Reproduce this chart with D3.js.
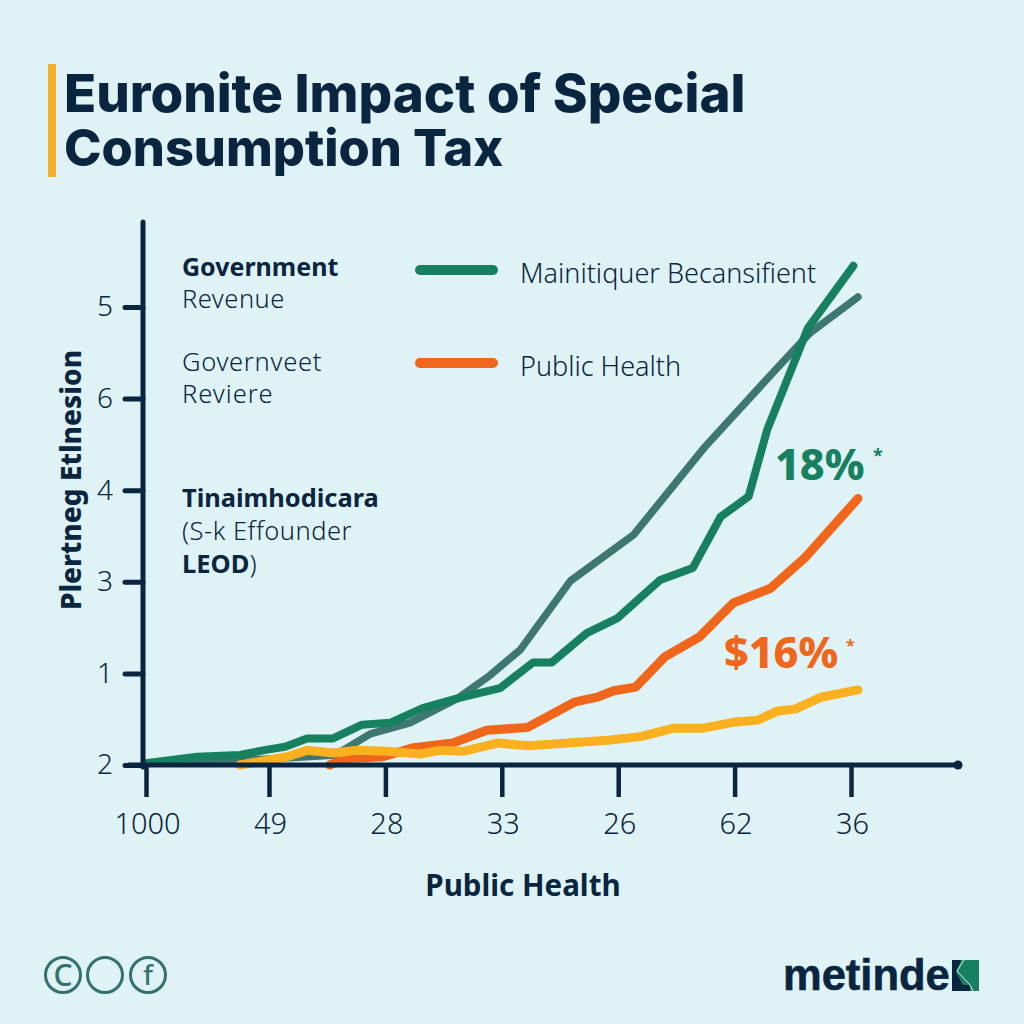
<!DOCTYPE html>
<html>
<head>
<meta charset="utf-8">
<script src="https://cdn.jsdelivr.net/npm/d3@7/dist/d3.min.js"></script>
<style>
html,body{margin:0;padding:0;background:#dff3f6;}
svg{display:block;}
text{font-family:"Noto Sans",sans-serif;}
</style>
</head>
<body>
<svg id="c" width="1024" height="1024"></svg>
<script>
const xTickLabels = ["1000","49","28","33","26","62","36"];
const yTickLabels = ["2","1","3","4","6","5"];
const titleLines = ["Euronite Impact of Special","Consumption Tax"];
const xTitle = "Public Health";
const yTitle = "Plertneg Etlnesion";
const legendNames = ["Mainitiquer Becansifient","Public Health"];

const slateX = [0,.764,1.327,1.57,1.87,2.21,2.625,2.90,3.16,3.59,4.13,4.75,5.37,5.65,6.06];
const slateY = [.02,.05,.09,.11,.34,.46,.73,.98,1.26,2.01,2.51,3.48,4.34,4.72,5.11];
const greenX = [0,.415,.764,.951,1.138,1.327,1.55,1.80,2.04,2.32,2.625,2.985,3.27,3.43,3.73,3.99,4.36,4.64,4.88,5.12,5.28,5.63,6.02];
const greenY = [.02,.09,.11,.16,.20,.29,.29,.44,.46,.62,.73,.84,1.12,1.12,1.44,1.60,2.02,2.15,2.71,2.93,3.66,4.77,5.45];
const orangeX = [1.52,1.67,1.98,2.24,2.58,2.87,3.22,3.63,3.82,3.96,4.15,4.40,4.70,4.99,5.31,5.61,6.06];
const orangeY = [.0,.07,.09,.19,.24,.38,.41,.69,.74,.81,.85,1.18,1.40,1.77,1.93,2.27,2.91];
const yellowX = [.764,1.155,1.327,1.55,1.76,2.01,2.30,2.47,2.67,2.96,3.23,3.91,4.19,4.47,4.72,5.01,5.20,5.37,5.52,5.74,6.06];
const yellowY = [.0,.09,.16,.13,.16,.15,.12,.16,.15,.24,.21,.27,.31,.40,.40,.47,.49,.59,.61,.74,.82];

const DARK="#0a2540", GREEN="#16805f", SLATE="#3e7672", ORANGE="#f0661a", YELLOW="#fbb01f";

const svg = d3.select("#c");
svg.append("rect").attr("width",1024).attr("height",1024).attr("fill","#dff3f6");

const x = d3.scaleLinear().domain([0,1,6]).range([146,269,851]);
const y = d3.scaleLinear().domain([0,5]).range([765,307]);

// title
svg.append("rect").attr("x",48).attr("y",64).attr("width",8).attr("height",113).attr("fill","#f2ae2c");
const title = svg.append("text").attr("font-weight",800).attr("fill",DARK).style("font-family","Inter,sans-serif");
title.selectAll("tspan").data(titleLines).join("tspan")
  .attr("x",64).attr("y",(d,i)=>112+i*54).attr("font-size",(d,i)=>i?50.5:52.8).text(d=>d);

// series
const line = d3.line().x(d=>x(d[0])).y(d=>y(d[1]));
const series = [
  {xs:slateX,ys:slateY,c:SLATE,w:7.5},
  {xs:greenX,ys:greenY,c:GREEN,w:8},
  {xs:orangeX,ys:orangeY,c:ORANGE,w:9},
  {xs:yellowX,ys:yellowY,c:YELLOW,w:9}
];
svg.selectAll("path.s").data(series).join("path").attr("class","s")
  .attr("d",s=>line(d3.zip(s.xs,s.ys)))
  .attr("fill","none").attr("stroke",s=>s.c).attr("stroke-width",s=>s.w)
  .attr("stroke-linejoin","round").attr("stroke-linecap","round");

// axes
const xAxis = d3.axisBottom(x).tickValues(d3.range(7)).tickFormat(i=>xTickLabels[i]).tickSize(32).tickPadding(16);
const gx = svg.append("g").attr("transform","translate(0,765)").call(xAxis);
gx.select(".domain").remove();
gx.selectAll("line").attr("stroke",DARK).attr("stroke-width",4.5);
gx.selectAll("text").attr("font-size",29).attr("font-weight",300).attr("fill",DARK).attr("dy","0.71em").attr("dx",1).style("font-family","'Noto Sans',sans-serif");

const yAxis = d3.axisLeft(y).tickValues(d3.range(6)).tickFormat(i=>yTickLabels[i]).tickSize(18).tickPadding(12);
const gy = svg.append("g").attr("transform","translate(143,0)").call(yAxis);
gy.select(".domain").remove();
gy.selectAll("line").attr("stroke",DARK).attr("stroke-width",5).attr("stroke-linecap","round");
gy.selectAll("text").attr("font-size",28).attr("font-weight",300).attr("fill",DARK).style("font-family","'Noto Sans',sans-serif");

svg.append("line").attr("x1",143).attr("x2",143).attr("y1",222).attr("y2",767)
  .attr("stroke",DARK).attr("stroke-width",5).attr("stroke-linecap","round");
svg.append("line").attr("x1",128).attr("x2",958).attr("y1",765).attr("y2",765)
  .attr("stroke",DARK).attr("stroke-width",5);
svg.append("circle").attr("cx",958).attr("cy",765).attr("r",4.5).attr("fill",DARK);

// legend
[[270,GREEN,283],[363,ORANGE,376]].forEach((r,i)=>{
  svg.append("line").attr("x1",420).attr("x2",493).attr("y1",r[0]).attr("y2",r[0])
    .attr("stroke",r[1]).attr("stroke-width",10).attr("stroke-linecap","round");
  svg.append("text").attr("x",520).attr("y",r[2]).attr("font-size",27).attr("font-weight",300).attr("fill",DARK).text(legendNames[i]);
});

// left notes
const notes = [
  ["Government",276,700,25,0],["Revenue",308,300,25.5,.5],
  ["Governveet",371,300,25.5,.7],["Reviere",403,300,25.5,1],
  ["Tinaimhodicara",507,700,25.4,0],["(S-k Effounder",540,300,25.5,.5]
];
notes.forEach(n=>svg.append("text").attr("x",182).attr("y",n[1]).attr("font-size",n[3])
  .attr("letter-spacing",n[4]).attr("font-weight",n[2]).attr("fill",DARK).text(n[0]));
const leod = svg.append("text").attr("x",182).attr("y",573).attr("font-size",25.5).attr("fill",DARK);
leod.append("tspan").attr("font-weight",700).text("LEOD");
leod.append("tspan").attr("font-weight",300).text(")");

// axis titles
svg.append("text").attr("transform","translate(81,480) rotate(-90)").attr("text-anchor","middle")
  .attr("font-size",28).attr("font-weight",800).attr("fill",DARK).text(yTitle);
svg.append("text").attr("x",523).attr("y",896).attr("text-anchor","middle")
  .attr("font-size",29.5).attr("font-weight",700).attr("fill",DARK).text(xTitle);

// callouts
svg.append("text").attr("x",775).attr("y",480).attr("font-size",43).attr("font-weight",800).attr("fill",GREEN).text("18%");
svg.append("text").attr("x",873).attr("y",462).attr("font-size",18).attr("font-weight",700).attr("fill",GREEN).text("*");
svg.append("text").attr("x",724).attr("y",668).attr("font-size",43).attr("font-weight",800).attr("fill",ORANGE).text("$16%");
svg.append("text").attr("x",846).attr("y",651).attr("font-size",16).attr("font-weight",700).attr("fill",ORANGE).text("*");

// footer
[[63,"C",30,986],[105,"",27,985],[148,"f",27,985]].forEach(c=>{
  svg.append("circle").attr("cx",c[0]).attr("cy",975).attr("r",17.5).attr("fill","none").attr("stroke","#33706e").attr("stroke-width",3);
  svg.append("text").attr("x",c[0]).attr("y",c[3]).attr("text-anchor","middle").attr("font-size",c[2]).attr("font-weight",500).attr("fill","#33706e").text(c[1]);
});
svg.append("text").attr("x",783).attr("y",990).attr("font-size",43.5).attr("font-weight",700).attr("fill",DARK)
  .attr("stroke",DARK).attr("stroke-width",.6)
  .style("font-family","'Liberation Sans',sans-serif").text("metinde");
svg.append("rect").attr("x",952).attr("y",960).attr("width",27).attr("height",31).attr("fill",GREEN);
svg.append("path").attr("d","M952 960h9l-5 12 7 13 h7v6h-18z").attr("fill",DARK);
svg.append("path").attr("d","M964 960l-7 11 13 14 3 6").attr("fill","none").attr("stroke","#dff3f6").attr("stroke-width",1);
</script>
</body>
</html>
